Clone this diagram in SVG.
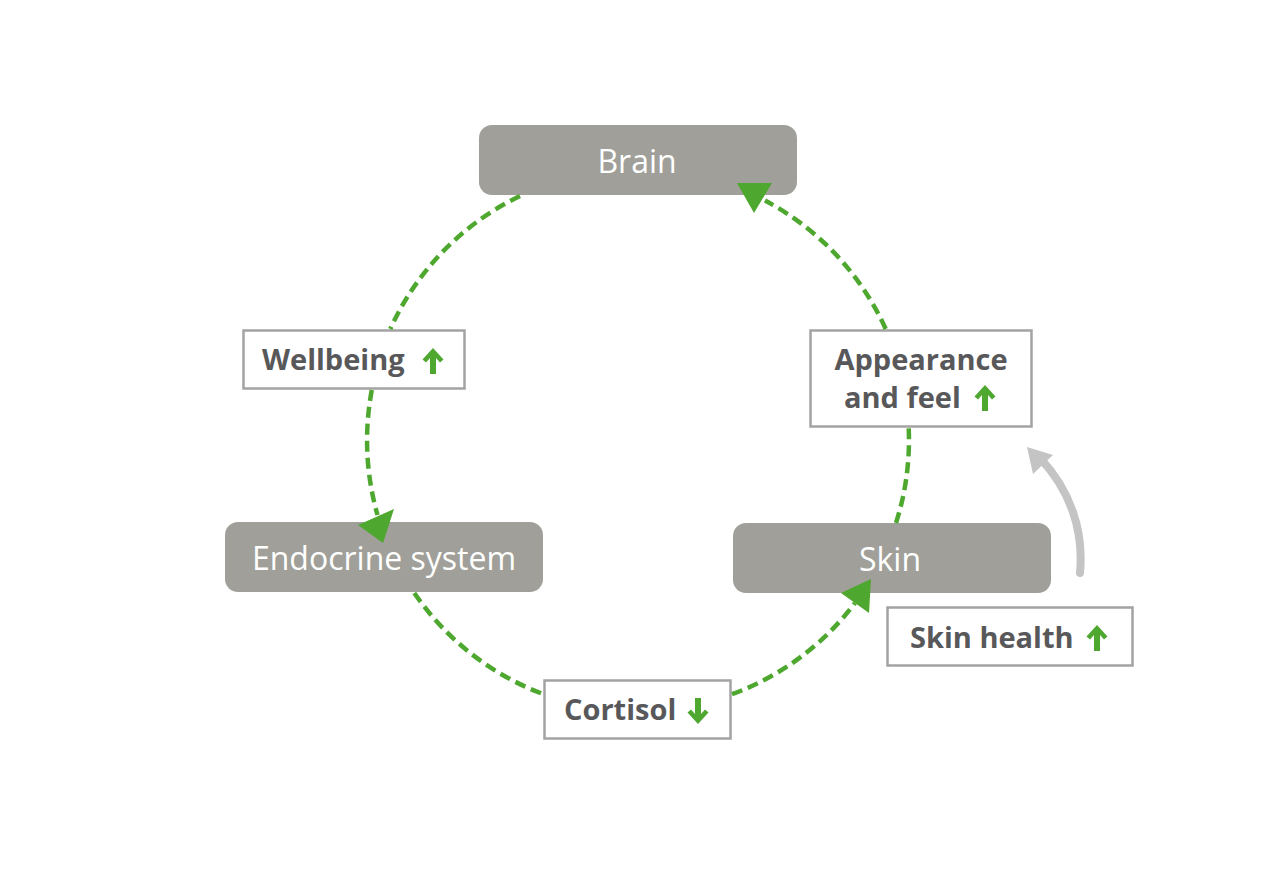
<svg xmlns="http://www.w3.org/2000/svg" width="1270" height="877" viewBox="0 0 1270 877">
<defs>
<style>
.node rect{fill:#a09f99}
.node text{font-family:"Open Sans","Liberation Sans",sans-serif;font-size:32px;fill:#ffffff;text-anchor:middle}
.lbl rect{fill:#ffffff;stroke:#a3a3a3;stroke-width:2.5}
.lbl text{font-family:"Open Sans","Liberation Sans",sans-serif;font-size:29px;font-weight:bold;fill:#58585a}
.dash{fill:none;stroke:#4ea72e;stroke-width:4.5;stroke-dasharray:11 6}
.head{fill:#4ea72e}
.arr{fill:#4ea72e}
</style>
<path id="up" d="M0,-13 L10.5,-1.5 L7,1.5 L3,-3 L3,13 L-3,13 L-3,-3 L-7,1.5 L-10.5,-1.5 Z"/>
</defs>
<rect width="1270" height="877" fill="#ffffff"/>
<g id="brain" class="node"><rect x="479" y="125" width="318" height="70" rx="13"/><text x="637" y="173">Brain</text></g>
<g id="endocrine" class="node"><rect x="225" y="522" width="318" height="70" rx="13"/><text x="384" y="570">Endocrine system</text></g>
<g id="skin" class="node"><rect x="733" y="523" width="318" height="70" rx="13"/><text x="890" y="571">Skin</text></g>
<g id="wellbeing" class="lbl"><rect x="243.5" y="330.5" width="221" height="58"/><text x="262" y="370">Wellbeing</text><use href="#up" class="arr" transform="translate(433,361)"/></g>
<g id="appearance" class="lbl"><rect x="810.5" y="330.5" width="221" height="96"/><text x="921" y="370" text-anchor="middle">Appearance</text><text x="844" y="408">and feel</text><use href="#up" class="arr" transform="translate(985,398)"/></g>
<g id="cortisol" class="lbl"><rect x="544.5" y="680.5" width="186" height="58"/><text x="564" y="720">Cortisol</text><use href="#up" class="arr" transform="translate(698,711) rotate(180)"/></g>
<g id="skinhealth" class="lbl"><rect x="887.5" y="607.5" width="245" height="58"/><text x="910" y="648">Skin health</text><use href="#up" class="arr" transform="translate(1097,638)"/></g>
<g id="connectors">
<path class="dash" d="M520,196 A271,271 0 0 0 390.3,329"/>
<path class="dash" d="M371.8,390 A271,271 0 0 0 377.5,515"/>
<path class="dash" d="M414.3,593 A271,271 0 0 0 543,694"/>
<path class="dash" d="M732,694.2 A271,271 0 0 0 855,603"/>
<path class="dash" d="M896,523 A271,271 0 0 0 908.7,428"/>
<path class="dash" d="M885.7,329 A271,271 0 0 0 765,200.6"/>
<polygon class="head" points="737,183 772,183 754,213"/>
<polygon class="head" points="358,525 394,509 383,543"/>
<polygon class="head" points="841,593 871,579 869,613"/>
<path d="M1080,573 C1084,530 1070,490 1040,458" fill="none" stroke="#c4c4c4" stroke-width="8" stroke-linecap="round"/>
<polygon points="1027,447 1053,455 1033,474" fill="#c4c4c4"/>
</g>
</svg>
